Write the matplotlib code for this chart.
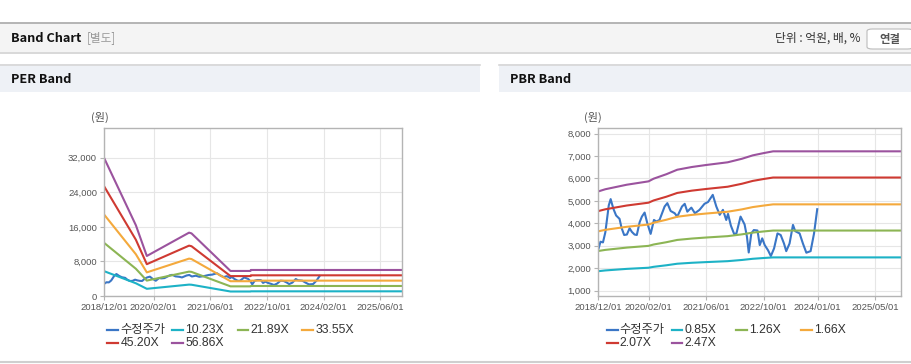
import matplotlib.pyplot as plt
from matplotlib.patches import Rectangle, FancyBboxPatch
from matplotlib.lines import Line2D
import pandas as pd

plt.rcParams['font.family'] = ['Liberation Sans', 'Noto Sans CJK KR']
KR = ['Noto Sans CJK KR', 'Liberation Sans']

# 수정주가 (shared by both charts)
price_dates = ['2018-12-06', '2018-12-22', '2019-01-12', '2019-02-01', '2019-02-18', '2019-03-02',
               '2019-03-18', '2019-04-10', '2019-05-03', '2019-06-01', '2019-06-18', '2019-07-10',
               '2019-08-02', '2019-08-25', '2019-09-13', '2019-10-06', '2019-10-25', '2019-11-18',
               '2019-12-07', '2019-12-30', '2020-01-22', '2020-02-19', '2020-03-18', '2020-04-07',
               '2020-05-04', '2020-06-16', '2020-07-09', '2020-08-06', '2020-09-09', '2020-10-01',
               '2020-11-10', '2020-12-03', '2020-12-25', '2021-01-28', '2021-02-27', '2021-04-07',
               '2021-05-19', '2021-06-18', '2021-07-28', '2021-08-27', '2021-09-25', '2021-10-22',
               '2021-11-19', '2021-12-04', '2021-12-28', '2022-01-25', '2022-02-13', '2022-03-20',
               '2022-04-23', '2022-05-13', '2022-05-28', '2022-06-19', '2022-07-10', '2022-08-10',
               '2022-08-29', '2022-09-19', '2022-10-10', '2022-11-07', '2022-12-01', '2022-12-28',
               '2023-01-26', '2023-02-22', '2023-03-22', '2023-04-10', '2023-05-08', '2023-06-06',
               '2023-06-25', '2023-08-01', '2023-08-29', '2023-09-27', '2023-11-02', '2023-12-01',
               '2023-12-28']
price = [2880, 3180, 3150, 3600, 4300, 4800,
         5080, 4650, 4350, 4200, 3800, 3480,
         3500, 3780, 3620, 3500, 3480, 4050,
         4300, 4480, 4000, 3530, 4150, 4080,
         4150, 4750, 4900, 4550, 4450, 4300,
         4750, 4870, 4520, 4700, 4450, 4600,
         4870, 4950, 5270, 4750, 4380, 4600,
         4150, 4420, 3900, 3520, 3550, 4300,
         3950, 3400, 2700, 3550, 3700, 3680,
         3030, 3330, 3030, 2800, 2540, 2880,
         3550, 3480, 3100, 2760, 3100, 3930,
         3650, 3550, 3100, 2690, 2760, 3550,
         4630]

# PER bands
per_dates = ['2018-12-01', '2019-09-01', '2019-12-04', '2020-12-01', '2020-12-22',
             '2021-11-22', '2022-05-13', '2022-05-16', '2025-12-05']
per_1023 = [5759, 2946, 1667, 2639, 2609, 1043, 1043, 1084, 1084]
per_2189 = [12324, 6304, 3568, 5648, 5582, 2233, 2233, 2320, 2320]
per_3355 = [18889, 9662, 5469, 8656, 8555, 3422, 3422, 3556, 3556]
per_4520 = [25448, 13018, 7368, 11662, 11526, 4610, 4610, 4791, 4791]
per_5686 = [32012, 16376, 9268, 14670, 14499, 5800, 5800, 6027, 6027]
per_labels = ['수정주가', '10.23X', '21.89X', '33.55X', '45.20X', '56.86X']
per_ticks = ['2018-12-01', '2020-02-01', '2021-06-01', '2022-10-01', '2024-02-01', '2025-06-01']

# PBR bands
pbr_dates = ['2018-12-01', '2019-02-01', '2019-08-01', '2020-02-01', '2020-03-15', '2020-07-01',
             '2020-10-01', '2021-02-01', '2021-06-01', '2021-12-01', '2022-04-01', '2022-07-01',
             '2022-10-01', '2022-12-20', '2025-12-05']
pbr_085 = [1865, 1900, 1969, 2020, 2061, 2130, 2199, 2241, 2271, 2313, 2367, 2419, 2454, 2481, 2481]
pbr_126 = [2764, 2816, 2918, 2995, 3056, 3158, 3260, 3321, 3367, 3428, 3509, 3586, 3638, 3678, 3678]
pbr_166 = [3642, 3710, 3845, 3946, 4026, 4160, 4294, 4376, 4436, 4517, 4623, 4724, 4792, 4846, 4846]
pbr_207 = [4542, 4626, 4794, 4920, 5020, 5187, 5355, 5457, 5531, 5632, 5765, 5891, 5976, 6042, 6042]
pbr_247 = [5419, 5520, 5721, 5871, 5990, 6190, 6390, 6511, 6600, 6721, 6879, 7030, 7131, 7210, 7210]
pbr_labels = ['수정주가', '0.85X', '1.26X', '1.66X', '2.07X', '2.47X']
pbr_ticks = ['2018-12-01', '2020-02-01', '2021-06-01', '2022-10-01', '2024-01-01', '2025-05-01']

colors = ['#3a76c6', '#1db2c6', '#8cb554', '#f4a93c', '#cf3a32', '#9b539e']

W, H = 912, 364
fig = plt.figure(figsize=(W / 100, H / 100), dpi=100)


def fx(x):
    return x / W


def fy(y):
    return 1 - y / H


def rect(x0, y0, x1, y1, color):
    fig.patches.append(Rectangle((fx(x0), fy(y1)), fx(x1) - fx(x0), fy(y0) - fy(y1),
                                 transform=fig.transFigure, color=color, lw=0, zorder=0))


def hline(y, x0, x1, color, lw):
    fig.add_artist(Line2D([fx(x0), fx(x1)], [fy(y), fy(y)], transform=fig.transFigure,
                          color=color, lw=lw, zorder=1))


# page header
hline(22.5, 0, W, '#b4b4b4', 1.4)
rect(0, 23, W, 52, '#f4f4f4')
hline(52.5, 0, W, '#d2d2d2', 1.2)
fig.text(fx(11), fy(38), 'Band Chart', family=KR, fontsize=9.2, fontweight='bold', color='#111111', va='center')
fig.text(fx(87), fy(38), '[별도]', family=KR, fontsize=8.4, color='#999999', va='center')
fig.text(fx(861), fy(38), '단위 : 억원, 배, %', family=KR, fontsize=8.5, color='#333333', va='center', ha='right')
fig.patches.append(FancyBboxPatch((fx(867), fy(49)), fx(46), 20 / H, boxstyle='round,pad=0,rounding_size=0.006',
                                  transform=fig.transFigure, fc='white', ec='#bbbbbb', lw=0.8, zorder=1))
fig.text(fx(890), fy(39), '연결', family=KR, fontsize=8.2, fontweight='bold', color='#555555', va='center', ha='center')

# panel headers
for x0, x1, title in [(0, 480, 'PER Band'), (499, W, 'PBR Band')]:
    rect(x0, 64, x1, 92, '#eef1f6')
    hline(64.5, x0, x1, '#d6d6d6', 1.2)
    fig.text(fx(x0 + 11), fy(79.5), title, family=KR, fontsize=9.2, fontweight='bold', color='#111111', va='center')
hline(362, 0, W, '#cfcfcf', 1.5)


def band_chart(left, right, x0, band_dates, bands, labels, ticks, ylim, yticks, leg_x):
    ax = fig.add_axes([fx(left), fy(296), fx(right) - fx(left), fy(128) - fy(296)])
    ax.plot(pd.to_datetime(price_dates), price, color=colors[0], lw=1.5, label=labels[0])
    bd = pd.to_datetime(band_dates)
    for vals, c, lab in zip(bands, colors[1:], labels[1:]):
        ax.plot(bd, vals, color=c, lw=1.5, label=lab)
    ax.set_xlim(pd.Timestamp('2018-12-01'), pd.Timestamp('2025-12-05'))
    ax.set_ylim(*ylim)
    ax.set_xticks(pd.to_datetime(ticks))
    ax.set_xticklabels([t.replace('-', '/') for t in ticks])
    ax.set_yticks(yticks)
    ax.set_yticklabels([f'{v:,}' for v in yticks])
    ax.grid(True, color='#e6e6e6', lw=0.8)
    ax.set_axisbelow(True)
    for s in ax.spines.values():
        s.set_color('#b4b4b4')
        s.set_linewidth(1)
    ax.tick_params(axis='both', colors='#b4b4b4', labelcolor='#555555', labelsize=6.8, length=3, width=0.8, pad=2)
    fig.text(fx(x0), fy(117), '(원)', family=KR, fontsize=8, color='#555555', va='center', ha='center')
    # legend, row-major on a fixed grid
    for i, (lab, c) in enumerate(zip(labels, colors)):
        lx = leg_x + 65 * (i % 4)
        ly = 330 + 13.3 * (i // 4)
        fig.add_artist(Line2D([fx(lx), fx(lx + 11)], [fy(ly), fy(ly)], transform=fig.transFigure, color=c, lw=1.6))
        fig.text(fx(lx + 13), fy(ly), lab, family=['Liberation Sans', 'Noto Sans CJK KR'], fontsize=8.8,
                 color='#333333', va='center')
    return ax


band_chart(104, 402, 99.5, per_dates, [per_1023, per_2189, per_3355, per_4520, per_5686], per_labels,
           per_ticks, (0, 38900), [0, 8000, 16000, 24000, 32000], 107.5)
band_chart(598, 901, 593, pbr_dates, [pbr_085, pbr_126, pbr_166, pbr_207, pbr_247], pbr_labels,
           pbr_ticks, (760, 8250), [1000, 2000, 3000, 4000, 5000, 6000, 7000, 8000], 606.5)

fig.savefig('out.png', dpi=100)
